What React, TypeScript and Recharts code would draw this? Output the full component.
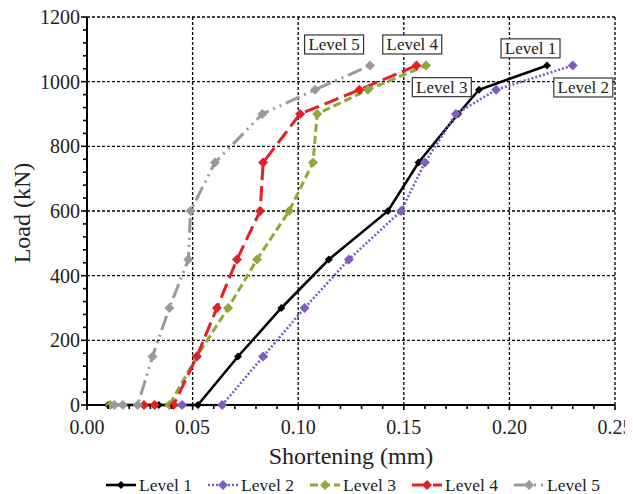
import React from 'react';
import {
  LineChart,
  Line,
  XAxis,
  YAxis,
  CartesianGrid,
  Legend,
  ReferenceDot,
  Customized,
} from 'recharts';

// ---------- data ----------
const level1X = [0.01, 0.034, 0.0525, 0.0715, 0.092, 0.1145, 0.1425, 0.157, 0.1757, 0.1856, 0.2178];
const level1Y = [0, 0, 0, 150, 300, 450, 600, 750, 900, 975, 1050];

const level2X = [0.045, 0.064, 0.0834, 0.103, 0.124, 0.1487, 0.16, 0.1747, 0.1937, 0.23];
const level2Y = [0, 0, 150, 300, 450, 600, 750, 900, 975, 1050];

const level3X = [0.011, 0.039, 0.052, 0.0668, 0.0805, 0.0957, 0.107, 0.109, 0.133, 0.1605];
const level3Y = [0, 0, 150, 300, 450, 600, 750, 900, 975, 1050];

const level4X = [0.027, 0.032, 0.041, 0.052, 0.0615, 0.071, 0.082, 0.0834, 0.1009, 0.129, 0.156];
const level4Y = [0, 0, 0, 150, 300, 450, 600, 750, 900, 975, 1050];

const level5X = [0.013, 0.017, 0.024, 0.031, 0.039, 0.048, 0.049, 0.0606, 0.083, 0.108, 0.134];
const level5Y = [0, 0, 0, 150, 300, 450, 600, 750, 900, 975, 1050];

const seriesNames = ['Level 1', 'Level 2', 'Level 3', 'Level 4', 'Level 5'];

const xTicks = [
  0, 0.01, 0.02, 0.03, 0.04, 0.05, 0.06, 0.07, 0.08, 0.09, 0.1, 0.11, 0.12, 0.13,
  0.14, 0.15, 0.16, 0.17, 0.18, 0.19, 0.2, 0.21, 0.22, 0.23, 0.24, 0.25,
];
const xMajor = [0, 0.05, 0.1, 0.15, 0.2, 0.25];
const yTicks = [
  0, 40, 80, 120, 160, 200, 240, 280, 320, 360, 400, 440, 480, 520, 560, 600, 640,
  680, 720, 760, 800, 840, 880, 920, 960, 1000, 1040, 1080, 1120, 1160, 1200,
];
const yMajor = [0, 200, 400, 600, 800, 1000, 1200];

// annotation boxes: label, x, y (data space)
const noteLabels = ['Level 5', 'Level 4', 'Level 1', 'Level 3', 'Level 2'];
const noteX = [0.117, 0.154, 0.21, 0.168, 0.235];
const noteY = [1115, 1115, 1103, 983, 982];

// ---------- styles ----------
const FONT = 'Liberation Serif, Times New Roman, serif';
const TXT = '#222';

const styles = [
  { color: '#000000', dash: undefined, width: 2.6, r: 4 },
  { color: '#7e5cc0', dash: '2 2', width: 2.6, r: 5 },
  { color: '#8fa83a', dash: '8 4', width: 3, r: 5 },
  { color: '#e3202a', dash: '15 6', width: 3, r: 5 },
  { color: '#9a9a9a', dash: '15 5 2 5 2 5', width: 3, r: 5 },
];

const toData = (xs: number[], ys: number[]) => xs.map((x, i) => ({ x, y: ys[i] }));
const allData = [
  toData(level1X, level1Y),
  toData(level2X, level2Y),
  toData(level3X, level3Y),
  toData(level4X, level4Y),
  toData(level5X, level5Y),
];

const makeDiamond = (color: string, r: number) => (props: any) => {
  const { cx, cy, index } = props;
  if (cx == null || cy == null) return <g key={`d-${index}`} />;
  return (
    <path
      key={`d-${index}`}
      d={`M${cx},${cy - r}L${cx + r},${cy}L${cx},${cy + r}L${cx - r},${cy}Z`}
      fill={color}
      stroke="none"
    />
  );
};

const isMajor = (v: number, list: number[]) => list.some((m) => Math.abs(m - v) < 1e-9);

const YTick = (props: any) => {
  const { x, y, payload } = props;
  const major = isMajor(payload.value, yMajor);
  return (
    <g>
      <line x1={x - (major ? 6 : 4)} x2={x} y1={y} y2={y} stroke="#000" strokeWidth={1.6} />
      {major && (
        <text
          x={x - 7}
          y={y}
          textAnchor="end"
          dominantBaseline="central"
          fontSize={20}
          fontFamily={FONT}
          fill={TXT}
        >
          {payload.value}
        </text>
      )}
    </g>
  );
};

const XTick = (props: any) => {
  const { x, y, payload } = props;
  const major = isMajor(payload.value, xMajor);
  return (
    <g>
      <line x1={x} x2={x} y1={y} y2={y + (major ? 5 : 4)} stroke="#000" strokeWidth={1.6} />
      {major && (
        <text
          x={x}
          y={y + 22}
          textAnchor="middle"
          dominantBaseline="central"
          fontSize={20}
          fontFamily={FONT}
          fill={TXT}
        >
          {payload.value.toFixed(2)}
        </text>
      )}
    </g>
  );
};

const makeBox = (text: string) => (props: any) => {
  const { cx, cy } = props;
  if (cx == null) return <g />;
  return (
    <g>
      <rect x={cx - 29.5} y={cy - 9.5} width={59} height={19} fill="#fff" stroke="#333" strokeWidth={1.2} />
      <text
        x={cx}
        y={cy + 0.5}
        textAnchor="middle"
        dominantBaseline="central"
        fontSize={17}
        fontFamily={FONT}
        fill={TXT}
      >
        {text}
      </text>
    </g>
  );
};

const LegendContent = () => (
  <div
    style={{
      height: 18,
      display: 'flex',
      alignItems: 'center',
      paddingLeft: 97,
      fontFamily: FONT,
      fontSize: 17.5,
      lineHeight: '18px',
      color: TXT,
      boxSizing: 'border-box',
    }}
  >
    {seriesNames.map((name, i) => {
      const s = styles[i];
      return (
        <div key={name} style={{ display: 'flex', alignItems: 'center', width: 105 }}>
          <svg width={32} height={14} style={{ display: 'block' }}>
            <line
              x1={1}
              x2={31}
              y1={7}
              y2={7}
              stroke={s.color}
              strokeWidth={s.width}
              strokeDasharray={s.dash}
            />
            <path d={`M16,${7 - s.r}L${16 + s.r},7L16,${7 + s.r}L${16 - s.r},7Z`} fill={s.color} />
          </svg>
          <span style={{ marginLeft: 2, whiteSpace: 'nowrap' }}>{name}</span>
        </div>
      );
    })}
  </div>
);

const Titles = () => (
  <g>
    <text
      x={351}
      y={456}
      textAnchor="middle"
      dominantBaseline="central"
      fontSize={24}
      fontFamily={FONT}
      fill={TXT}
    >
      Shortening (mm)
    </text>
    <text
      x={22}
      y={213}
      transform="rotate(-90, 22, 213)"
      textAnchor="middle"
      dominantBaseline="central"
      fontSize={24}
      fontFamily={FONT}
      fill={TXT}
    >
      Load (kN)
    </text>
  </g>
);

export default function App() {
  return (
    <div style={{ position: 'relative', margin: '-8px 0 0 -8px', width: 633, height: 494 }}>
      <LineChart
        width={633}
        height={494}
        margin={{ top: 17, right: 18, left: 8, bottom: 0 }}
        style={{ fontFamily: FONT }}
      >
        <CartesianGrid
          stroke="#000"
          strokeWidth={1.3}
          strokeDasharray="3 2"
          horizontalValues={[200, 400, 600, 800, 1000, 1200]}
          verticalValues={[0.05, 0.1, 0.15, 0.2, 0.25]}
        />
        <XAxis
          type="number"
          dataKey="x"
          domain={[0, 0.25]}
          ticks={xTicks}
          interval={0}
          tickSize={0}
          tickMargin={0}
          tickLine={false}
          tick={<XTick />}
          axisLine={{ stroke: '#000', strokeWidth: 2 }}
          height={71}
          allowDuplicatedCategory={false}
        />
        <YAxis
          type="number"
          dataKey="y"
          domain={[0, 1200]}
          ticks={yTicks}
          interval={0}
          tickSize={0}
          tickMargin={0}
          tickLine={false}
          tick={<YTick />}
          axisLine={{ stroke: '#000', strokeWidth: 2 }}
          width={79}
        />
        <Legend verticalAlign="bottom" content={<LegendContent />} />
        {allData.map((d, i) => (
          <Line
            key={seriesNames[i]}
            data={d}
            dataKey="y"
            name={seriesNames[i]}
            type="linear"
            stroke={styles[i].color}
            strokeWidth={styles[i].width}
            strokeDasharray={styles[i].dash}
            dot={makeDiamond(styles[i].color, styles[i].r)}
            activeDot={false}
            isAnimationActive={false}
          />
        ))}
        {noteLabels.map((t, i) => (
          <ReferenceDot key={t} x={noteX[i]} y={noteY[i]} r={1} shape={makeBox(t)} />
        ))}
        <Customized component={Titles} />
      </LineChart>
    </div>
  );
}
